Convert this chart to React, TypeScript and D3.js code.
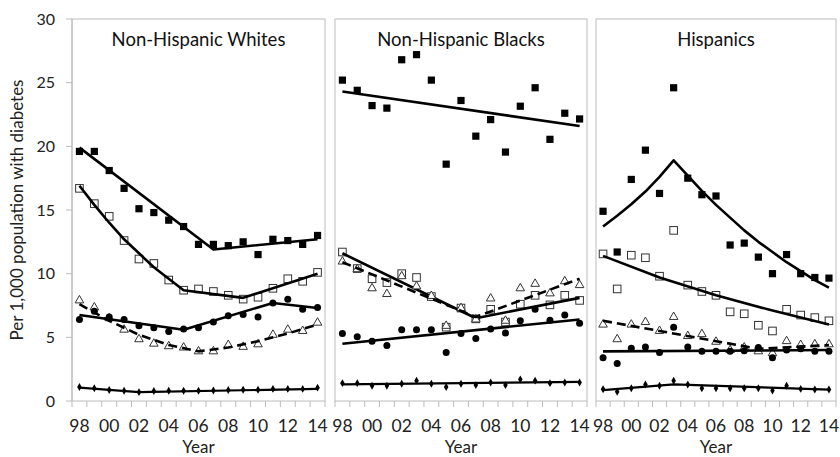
import React, { useEffect, useRef } from 'react';
import * as d3 from 'd3';

const years = [1998, 1999, 2000, 2001, 2002, 2003, 2004, 2005, 2006, 2007, 2008, 2009, 2010, 2011, 2012, 2013, 2014];
const yearLabels = ['98', '00', '02', '04', '06', '08', '10', '12', '14'];
const labelYears = [1998, 2000, 2002, 2004, 2006, 2008, 2010, 2012, 2014];
const yTicks = [0, 5, 10, 15, 20, 25, 30];
const titles = ['Non-Hispanic Whites', 'Non-Hispanic Blacks', 'Hispanics'];

// Non-Hispanic Whites
const whSq = [19.6, 19.6, 18.1, 16.7, 15.1, 14.8, 14.2, 13.7, 12.3, 12.3, 12.2, 12.5, 11.5, 12.7, 12.6, 12.3, 13.0];
const whSqTrend = [[1998, 19.9], [2007, 11.9], [2014, 12.7]];
const whOsq = [16.7, 15.5, 14.5, 12.6, 11.15, 10.8, 9.5, 8.7, 8.8, 8.6, 8.3, 8.0, 8.15, 8.85, 9.6, 9.4, 10.1];
const whOsqTrend = [[1998, 16.9], [1999, 15.4], [2000, 14.0], [2001, 12.7], [2002, 11.6], [2003, 10.5], [2004, 9.6], [2005, 8.7], [2009, 8.1], [2014, 10.0]];
const whTri = [7.9, 7.35, 6.5, 5.6, 4.85, 4.5, 4.3, 4.2, 3.9, 3.9, 4.4, 4.25, 4.45, 5.2, 5.6, 5.5, 6.15];
const whTriTrend = [[1998, 7.6], [2000, 6.3], [2002, 5.2], [2004, 4.4], [2006, 3.9], [2008, 4.2], [2010, 4.7], [2012, 5.3], [2014, 6.0]];
const whDot = [6.4, 7.05, 6.6, 6.4, 5.9, 5.75, 5.45, 5.65, 5.75, 6.2, 6.7, 6.8, 6.6, 7.7, 8.0, 7.2, 7.35];
const whDotTrend = [[1998, 6.75], [2005, 5.6], [2011, 7.7], [2014, 7.3]];
const whDia = [1.1, 1.0, 0.86, 0.8, 0.7, 0.78, 0.8, 0.8, 0.8, 0.82, 0.86, 0.88, 0.88, 0.95, 0.95, 0.95, 1.05];
const whDiaTrend = [[1998, 1.05], [2002, 0.7], [2014, 0.95]];

// Non-Hispanic Blacks
const blSq = [25.2, 24.4, 23.2, 23.0, 26.8, 27.2, 25.2, 18.6, 23.6, 20.8, 22.1, 19.55, 23.15, 24.6, 20.55, 22.6, 22.15];
const blSqTrend = [[1998, 24.3], [2014, 21.6]];
const blOsq = [11.7, 10.4, 9.6, 9.3, 10.0, 9.7, 8.2, 5.8, 7.3, 6.45, 7.2, 6.2, 7.6, 8.3, 7.55, 8.3, 7.9];
const blOsqTrend = [[1998, 11.6], [2007, 6.5], [2014, 8.1]];
const blTri = [10.95, 10.35, 8.85, 8.4, 9.8, 9.0, 8.25, 5.9, 7.3, 6.4, 8.05, 6.3, 8.85, 9.2, 8.45, 9.4, 9.1];
const blTriTrend = [[1998, 10.9], [2007, 6.6], [2014, 9.6]];
const blDot = [5.3, 5.05, 4.7, 4.35, 5.6, 5.6, 5.6, 3.8, 5.3, 4.9, 5.65, 5.35, 6.3, 7.2, 6.35, 6.75, 6.1];
const blDotTrend = [[1998, 4.5], [2014, 6.4]];
const blDia = [1.4, 1.4, 1.2, 1.2, 1.35, 1.6, 1.35, 1.1, 1.35, 1.25, 1.45, 1.25, 1.7, 1.6, 1.4, 1.45, 1.45];
const blDiaTrend = [[1998, 1.3], [2014, 1.5]];

// Hispanics
const hiSq = [14.9, 11.7, 17.4, 19.7, 16.3, 24.6, 17.5, 16.2, 16.1, 12.25, 12.4, 11.3, 10.0, 11.5, 10.0, 9.7, 9.65];
const hiSqTrend = [[1998, 13.7], [1999, 14.55], [2000, 15.45], [2001, 16.45], [2002, 17.6], [2003, 18.9], [2004, 17.7], [2005, 16.5], [2006, 15.4], [2007, 14.4], [2008, 13.4], [2009, 12.5], [2010, 11.7], [2011, 10.9], [2012, 10.2], [2013, 9.5], [2014, 8.9]];
const hiOsq = [11.55, 8.8, 11.45, 11.25, 9.8, 13.4, 9.1, 8.6, 8.3, 7.0, 6.85, 5.95, 5.5, 7.2, 6.75, 6.55, 6.3];
const hiOsqTrend = [[1998, 11.4], [2002, 9.7], [2006, 8.3], [2010, 7.1], [2014, 6.0]];
const hiTri = [6.0, 4.85, 6.0, 6.2, 5.5, 6.6, 5.1, 5.25, 4.65, 4.0, 4.2, 3.9, 3.75, 4.7, 4.4, 4.45, 4.45];
const hiTriTrend = [[1998, 6.3], [2009, 4.1], [2014, 4.4]];
const hiDot = [3.4, 2.95, 4.15, 4.25, 3.8, 5.8, 4.25, 3.9, 3.9, 3.9, 3.95, 4.2, 3.4, 4.0, 4.1, 3.9, 3.9];
const hiDotTrend = [[1998, 3.9], [2014, 4.0]];
const hiDia = [0.92, 0.73, 1.0, 1.3, 1.2, 1.6, 1.3, 1.0, 1.0, 1.0, 1.0, 1.0, 0.82, 1.2, 0.95, 0.9, 0.9];
const hiDiaTrend = [[1998, 0.85], [2003, 1.3], [2014, 0.9]];

const panelData = [
  [
    { kind: 'sq', values: whSq, trend: whSqTrend },
    { kind: 'osq', values: whOsq, trend: whOsqTrend },
    { kind: 'tri', values: whTri, trend: whTriTrend },
    { kind: 'dot', values: whDot, trend: whDotTrend },
    { kind: 'dia', values: whDia, trend: whDiaTrend },
  ],
  [
    { kind: 'sq', values: blSq, trend: blSqTrend },
    { kind: 'osq', values: blOsq, trend: blOsqTrend },
    { kind: 'tri', values: blTri, trend: blTriTrend },
    { kind: 'dot', values: blDot, trend: blDotTrend },
    { kind: 'dia', values: blDia, trend: blDiaTrend },
  ],
  [
    { kind: 'sq', values: hiSq, trend: hiSqTrend },
    { kind: 'osq', values: hiOsq, trend: hiOsqTrend },
    { kind: 'tri', values: hiTri, trend: hiTriTrend },
    { kind: 'dot', values: hiDot, trend: hiDotTrend },
    { kind: 'dia', values: hiDia, trend: hiDiaTrend },
  ],
];

const App = () => {
  const svgRef = useRef<SVGSVGElement>(null);

  useEffect(() => {
    const W = 840, H = 457;
    const top = 19, bottom = 401;
    const panels = [[72, 325], [335, 587], [596, 836]];
    const font = 'Lato, "Open Sans", sans-serif';
    const grey = '#bcbcbc';

    const svg = d3.select(svgRef.current);
    svg.selectAll('*').remove();
    svg.attr('width', W).attr('height', H);
    svg.append('rect').attr('width', W).attr('height', H).attr('fill', 'white');

    const y = d3.scaleLinear().domain([0, 30]).range([bottom, top]);

    // y axis
    const yAxis = svg.append('g');
    yAxis.append('line').attr('x1', 72).attr('x2', 72).attr('y1', top).attr('y2', bottom).attr('stroke', grey);
    yTicks.forEach(t => {
      yAxis.append('line').attr('x1', 66).attr('x2', 72).attr('y1', y(t)).attr('y2', y(t)).attr('stroke', grey);
      yAxis.append('text').attr('x', 55).attr('y', y(t)).attr('dy', '0.36em')
        .attr('text-anchor', 'end').attr('font-family', font).attr('font-size', 16).attr('fill', '#222')
        .text(t);
    });
    svg.append('text')
      .attr('transform', `translate(23,${(top + bottom) / 2}) rotate(-90)`)
      .attr('text-anchor', 'middle').attr('font-family', font).attr('font-size', 17).attr('fill', '#222')
      .text('Per 1,000 population with diabetes');

    panels.forEach(([x0, x1], pi) => {
      const x = d3.scaleBand<number>().domain(years).range([x0, x1]);
      const cx = (yr: number) => (x(yr) as number) + x.bandwidth() / 2;
      const g = svg.append('g');

      // frame
      g.append('rect').attr('x', x0).attr('y', top).attr('width', x1 - x0).attr('height', bottom - top)
        .attr('fill', 'none').attr('stroke', grey).attr('stroke-width', 1);
      // ticks
      years.concat([2015]).forEach((yr, i) => {
        const tx = x0 + i * x.bandwidth();
        g.append('line').attr('x1', tx).attr('x2', tx).attr('y1', bottom).attr('y2', bottom + 6).attr('stroke', grey);
      });
      labelYears.forEach((yr, i) => {
        g.append('text').attr('x', cx(yr)).attr('y', 432).attr('text-anchor', 'middle')
          .attr('font-family', font).attr('font-size', 17.5).attr('fill', '#222').text(yearLabels[i]);
      });
      g.append('text').attr('x', (x0 + x1) / 2).attr('y', 453).attr('text-anchor', 'middle')
        .attr('font-family', font).attr('font-size', 17).attr('fill', '#222').text('Year');
      g.append('text').attr('x', (x0 + x1) / 2).attr('y', 46).attr('text-anchor', 'middle')
        .attr('font-family', font).attr('font-size', 18.5).attr('fill', '#111').text(titles[pi]);

      panelData[pi].forEach(s => {
        const pts = s.values.map((v, i) => [cx(years[i]), y(v)]);
        const m = g.append('g');
        pts.forEach(([px, py]) => {
          if (s.kind === 'sq') {
            m.append('rect').attr('x', px - 3.6).attr('y', py - 3.6).attr('width', 7.2).attr('height', 7.2).attr('fill', '#000');
          } else if (s.kind === 'osq') {
            m.append('rect').attr('x', px - 3.8).attr('y', py - 3.8).attr('width', 7.6).attr('height', 7.6)
              .attr('fill', 'white').attr('stroke', '#333').attr('stroke-width', 1);
          } else if (s.kind === 'tri') {
            m.append('path').attr('d', d3.symbol(d3.symbolTriangle, 32)())
              .attr('transform', `translate(${px},${py})`)
              .attr('fill', 'white').attr('stroke', '#333').attr('stroke-width', 1);
          } else if (s.kind === 'dot') {
            m.append('circle').attr('cx', px).attr('cy', py).attr('r', 3.5).attr('fill', '#000');
          } else {
            m.append('path').attr('d', d3.symbol(d3.symbolDiamond, 18)())
              .attr('transform', `translate(${px},${py})`).attr('fill', '#000');
          }
        });

        const line = d3.line<number[]>().x(d => cx(d[0])).y(d => y(d[1]));
        g.append('path').datum(s.trend).attr('d', line).attr('fill', 'none').attr('stroke', '#000')
          .attr('stroke-width', s.kind === 'dia' ? 2.2 : 2.6)
          .attr('stroke-dasharray', s.kind === 'tri' ? '9,5' : null)
          .attr('stroke-linejoin', 'round');
      });
    });
  }, []);

  return <svg ref={svgRef} style={{ position: 'absolute', left: 0, top: 0 }} />;
};

export default App;
